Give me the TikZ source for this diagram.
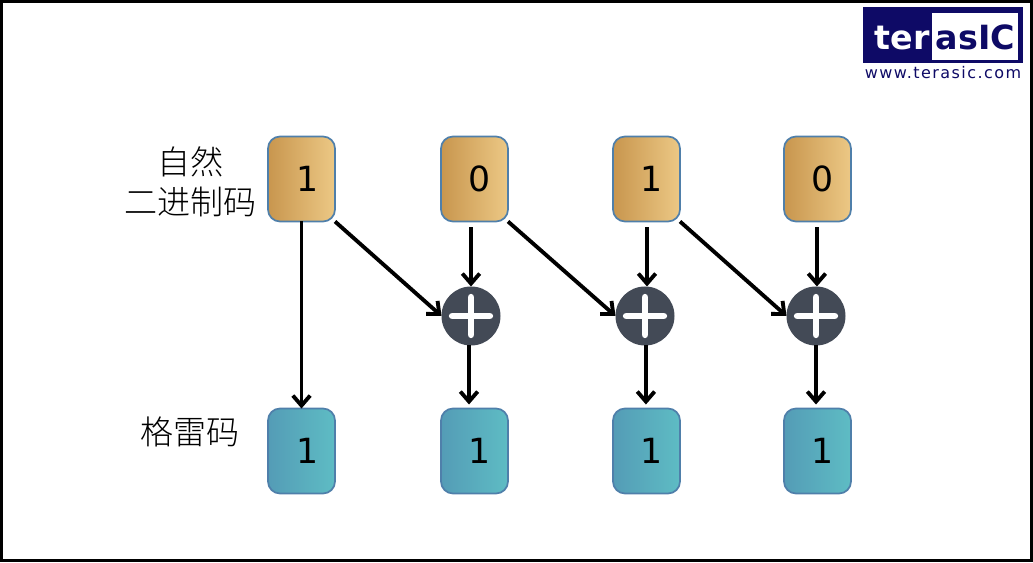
\documentclass[tikz,border=0pt]{standalone}
\usepackage{fontspec}
\setmainfont{DejaVu Sans}
\newfontfamily\cjkfont{Noto Sans CJK SC Light}
\newfontfamily\urlfont[LetterSpace=9]{DejaVu Sans}
\usetikzlibrary{positioning, arrows.meta}
\definecolor{navylogo}{HTML}{0E0A66}
\definecolor{edgeblue}{HTML}{4F7FAA}
\definecolor{xordark}{HTML}{434A56}
\definecolor{binleft}{HTML}{C8964E}
\definecolor{binmid}{HTML}{E4BC7A}
\definecolor{binright}{HTML}{ECC885}
\definecolor{grayleft}{HTML}{549CB6}
\definecolor{graymid}{HTML}{5AB2C0}
\definecolor{grayright}{HTML}{5EBCC4}

\begin{document}
\begin{tikzpicture}[x=0.75pt, y=-0.75pt,
	box/.style={draw=edgeblue, line width=1.3pt, outer sep=0pt, rounded corners=9pt, minimum width=50.25pt, minimum height=63.75pt, inner sep=0pt, font=\fontsize{26}{30}\selectfont},
	bin/.style={box, left color=binleft, middle color=binmid, right color=binright},
	gray/.style={box, left color=grayleft, middle color=graymid, right color=grayright},
	xor/.style={circle, fill=xordark, outer sep=0pt, minimum size=44.25pt, inner sep=0pt, path picture={
		\draw[white, line width=5.2pt, line cap=round] ([xshift=-14pt]path picture bounding box.center) -- ([xshift=14pt]path picture bounding box.center);
		\draw[white, line width=5.2pt, line cap=round] ([yshift=-14pt]path picture bounding box.center) -- ([yshift=14pt]path picture bounding box.center);}},
	cn/.style={font=\cjkfont\fontsize{24.8}{30}\selectfont, align=center, inner sep=0pt},
	conn/.style={-{Straight Barb[length=7.5pt, width=13pt]}, line width=2.9pt}]
	\useasboundingbox (0,0) rectangle (1033,563);
	\node[draw, line width=2.4pt, outer sep=0pt, minimum width=772.5pt, minimum height=419.25pt] (frame) at (516.5,281) {};

	% logo
	\node[fill=navylogo, minimum width=120pt, minimum height=42pt, anchor=north west, inner sep=0pt] (logo) at (863,7) {};
	\node[fill=white, minimum width=64.5pt, minimum height=35.25pt, anchor=north west, inner sep=0pt] (logo_box) at (932,13) {};
	\node[text=white, font=\bfseries\fontsize{25}{30}\selectfont, inner sep=0pt, anchor=base] (logo_ter) at (902,50) {ter};
	\node[text=navylogo, font=\bfseries\fontsize{25}{30}\selectfont, inner sep=0pt, anchor=base] (logo_asic) at (975.5,50) {asIC};
	\node[text=navylogo, font=\urlfont\fontsize{12}{14}\selectfont, inner sep=0pt, anchor=base] (logo_url) at (943,79) {www.terasic.com};

	% top row
	\node[bin] (b3) at (301.5,179) {\hspace{9pt}1};
	\node[bin, right=79.5pt of b3] (b2) {\hspace{7.5pt}0};
	\node[bin, right=78.75pt of b2] (b1) {\hspace{7.5pt}1};
	\node[bin, right=78pt of b1] (b0) {\hspace{7pt}0};

	% bottom row
	\node[gray, below=140.25pt of b3] (g3) {\hspace{9pt}1};
	\node[gray, below=140.25pt of b2] (g2) {\hspace{7.5pt}1};
	\node[gray, below=140.25pt of b1] (g1) {\hspace{7.5pt}1};
	\node[gray, below=140.25pt of b0] (g0) {\hspace{7pt}1};

	\node[xor] (x2) at (471,316) {};
	\node[xor] (x1) at (645,316) {};
	\node[xor] (x0) at (816,316) {};

	\node[cn] (bin_label) at (190.5,182) {自然\\二进制码};
	\node[cn] (gray_label) at (190,432) {格雷码};

	\draw[conn] (b3.south) -- (g3.north);
	\draw[conn] (b3.south east) -- (x2.west);
	\draw[conn] (b2.south east) -- (x1.west);
	\draw[conn] (b1.south east) -- (x0.west);

	\draw[conn, shorten <=4.5pt] (x2.north |- b2.south) -- (x2.north);
	\draw[conn, shorten <=4.5pt] ([xshift=1.5pt]x1.north |- b1.south) -- ([xshift=1.5pt]x1.north);
	\draw[conn, shorten <=4.5pt] ([xshift=0.7pt]x0.north |- b0.south) -- ([xshift=0.7pt]x0.north);

	\draw[conn, shorten >=3pt] ([xshift=-1.5pt]x2.south) -- ([xshift=-1.5pt]x2.south |- g2.north);
	\draw[conn, shorten >=3pt] ([xshift=0.7pt]x1.south) -- ([xshift=0.7pt]x1.south |- g1.north);
	\draw[conn, shorten >=3pt] (x0.south) -- (x0.south |- g0.north);
\end{tikzpicture}
\end{document}
